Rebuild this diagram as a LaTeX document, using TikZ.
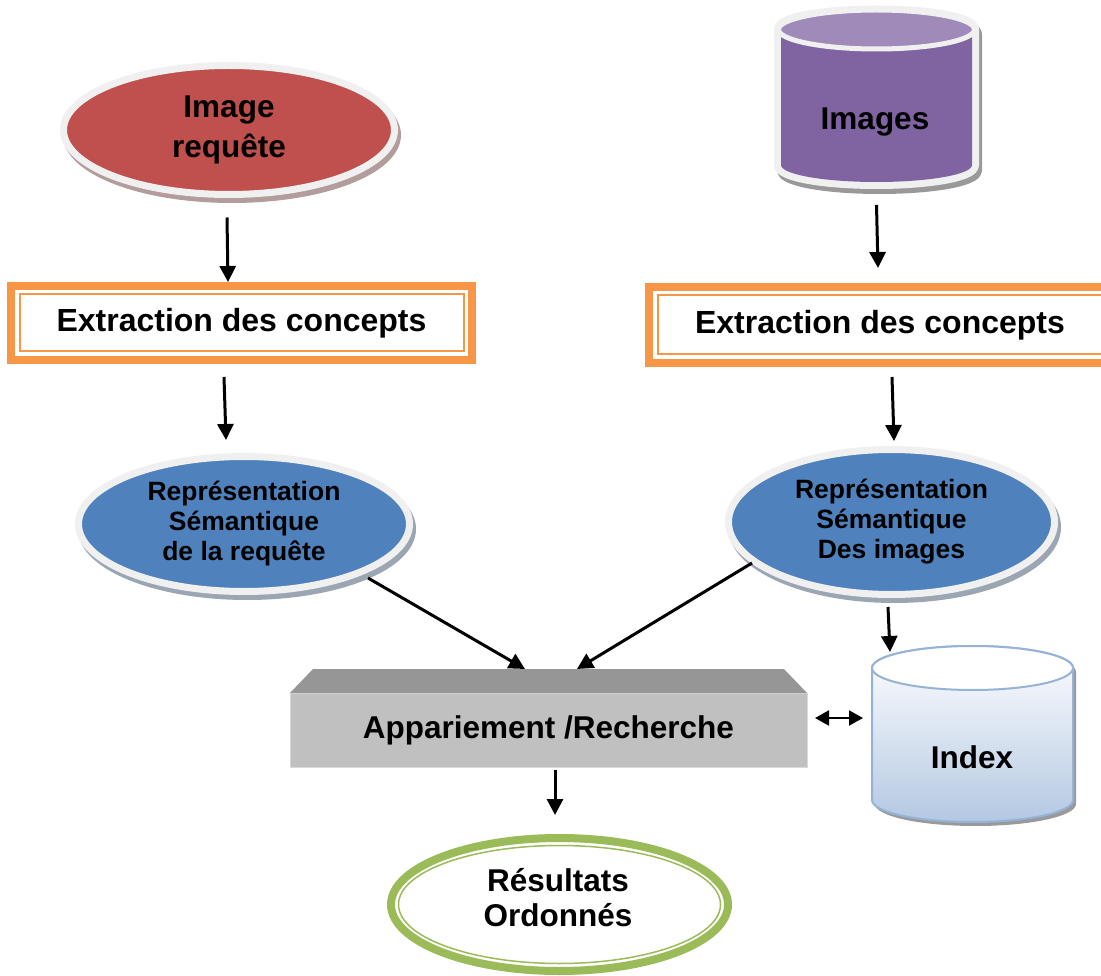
\documentclass[tikz,border=0pt]{standalone}
\usepackage{fontspec}
\setmainfont{Liberation Sans}
\usetikzlibrary{shapes.geometric,arrows.meta,calc}

\definecolor{reqred}{HTML}{C0504D}
\definecolor{semblue}{HTML}{4F81BD}
\definecolor{dbpurple}{HTML}{8064A2}
\definecolor{dbtop}{HTML}{9F8AB9}
\definecolor{extorange}{HTML}{F79646}
\definecolor{resgreen}{HTML}{9BBB59}
\definecolor{rimgray}{HTML}{F0F0F0}
\definecolor{boxfront}{HTML}{C0C0C0}
\definecolor{boxtop}{HTML}{969696}
\definecolor{idxline}{HTML}{95B3D7}
\definecolor{idxfill}{HTML}{B4C8E2}

% silhouette of an upright cylinder: centre x, top y, bottom y, x radius, y radius
\newcommand\cylsil[5]{(#1-#4,#2) arc[start angle=180,end angle=360,x radius=#4,y radius=#5]
  -- (#1+#4,#3) arc[start angle=0,end angle=180,x radius=#4,y radius=#5] -- cycle}

\begin{document}
\begin{tikzpicture}[x=1pt,y=-1pt,
  every node/.style={inner sep=0pt, outer sep=0pt},
  bigtext/.style={font=\bfseries\fontsize{31.5}{40}\selectfont, align=center},
  smalltext/.style={font=\bfseries\fontsize{26.5}{30}\selectfont, align=center},
  castshadow/.style={preaction={fill=#1, draw=#1, transform canvas={xshift=3pt, yshift=-5pt}}},
  rimellipse/.style={ellipse, fill=#1, draw=rimgray, line width=7pt, castshadow=#1!45!black!45!white},
  extbox/.style={rectangle, draw=extorange, line width=8pt, fill=white},
  arr/.style={line width=3pt, -{Triangle[width=16pt,length=16pt]}},
  biarr/.style={line width=2pt, {Triangle[width=15pt,length=14pt]}-{Triangle[width=15pt,length=14pt]}},
]
\clip (0,0) rectangle (1101,976);
\fill[white] (0,0) rectangle (1101,976);

% query image
\node[rimellipse=reqred, minimum width=331pt, minimum height=129pt, bigtext] (qimg) at (229,130) {Image\\requête};

% image collection
\begin{scope}[shift={(3,5)}]
  \filldraw[black!40!white, line width=14pt, line join=round] \cylsil{876.5}{29.5}{165}{95.5}{17};
\end{scope}
\filldraw[rimgray, line width=14pt, line join=round] \cylsil{876.5}{29.5}{165}{95.5}{17};
\fill[dbpurple] \cylsil{876.5}{29.5}{165}{95.5}{17};
\draw[fill=dbtop, draw=rimgray, line width=5pt] (876.5,29.5) ellipse [x radius=98, y radius=19.5];
\node[bigtext, anchor=base] (dbimg) at (875,130) {Images};
\coordinate (dbimgfoot) at (876.5,187);

% concept extraction
\node[extbox, minimum width=461pt, minimum height=74pt, bigtext, font=\bfseries\fontsize{32}{40}\selectfont] (ext1) at (241.5,323) {Extraction des concepts};
\draw[extorange, line width=2pt] ([shift={(8.5,8.5)}]ext1.north west) rectangle ([shift={(-8.5,-8.5)}]ext1.south east);
\node[extbox, minimum width=462pt, minimum height=76pt, bigtext, font=\bfseries\fontsize{32}{40}\selectfont] (ext2) at (880,325) {Extraction des concepts};
\draw[extorange, line width=2pt] ([shift={(8.5,8.5)}]ext2.north west) rectangle ([shift={(-8.5,-8.5)}]ext2.south east);

% semantic representations
\node[rimellipse=semblue, minimum width=331pt, minimum height=135pt, smalltext] (rep1) at (244,524) {Représentation\\Sémantique\\de la requête};
\node[rimellipse=semblue, minimum width=326pt, minimum height=145pt, smalltext] (rep2) at (891.5,522) {Représentation\\Sémantique\\Des images};

% matching block
\node[rectangle, fill=boxfront, draw=boxfront!60!white, line width=1pt, minimum width=517pt, minimum height=74pt, bigtext] (app) at (548.5,730) {Appariement /Recherche};
\fill[boxtop] (app.north west) -- ($(app.north west)+(23,-24)$) -- ($(app.north east)+(-23,-24)$) -- (app.north east) -- cycle;

% index
\begin{scope}[shift={(3,4)}]
  \fill[black!40!white] \cylsil{972.5}{668}{800}{100.5}{22};
\end{scope}
\shade[top color=white, bottom color=idxfill] \cylsil{972.5}{668}{800}{100.5}{22};
\draw[idxline, line width=2pt] \cylsil{972.5}{668}{800}{100.5}{22};
\filldraw[fill=white, draw=idxline, line width=2pt] (972.5,668) ellipse [x radius=100.5, y radius=22];
\node[bigtext, anchor=base] (idx) at (972,768) {Index};
\coordinate (idxtop) at (972.5,646);
\coordinate (idxleft) at (872,718);

% ranked results
\node[ellipse, draw=resgreen, line width=8pt, fill=white, minimum width=337pt, minimum height=133pt] (res) at (559.5,904.5) {};
\draw[resgreen, line width=1.5pt] (res.center) ellipse [x radius=161, y radius=59];
\node[font=\bfseries\fontsize{31.5}{35}\selectfont, align=center] (restxt) at (558,898) {Résultats\\Ordonnés};

% connectors
\draw[arr] ($(qimg.south)+(-2,23)$) -- ($(ext1.north)+(-13.5,-4)$);
\draw[arr] ($(dbimgfoot)+(0,18)$) -- ($(ext2.north)+(-2,-19)$);
\draw[arr] ($(ext1.south)+(-17.5,17)$) -- ($(rep1.north)+(-18,-16.5)$);
\draw[arr] ($(ext2.south)+(12,14)$) -- ($(rep2.north)+(2.5,-8.5)$);
\draw[arr] ($(rep1.center)+(124,54)$) -- ($(app.north)+(-23.5,-24)$);
\draw[arr] ($(rep2.center)+(-139.5,41)$) -- ($(app.north)+(28.5,-24)$);
\draw[arr] ($(rep2.south)+(-3.5,12.5)$) -- ($(idxtop)+(-82.5,6)$);
\draw[biarr] ($(app.east)+(8,-12)$) -- ($(idxleft)+(-9,0)$);
\draw[arr] ($(app.south)+(6.5,3)$) -- ($(res.north)+(-4.5,-23)$);
\end{tikzpicture}
\end{document}
